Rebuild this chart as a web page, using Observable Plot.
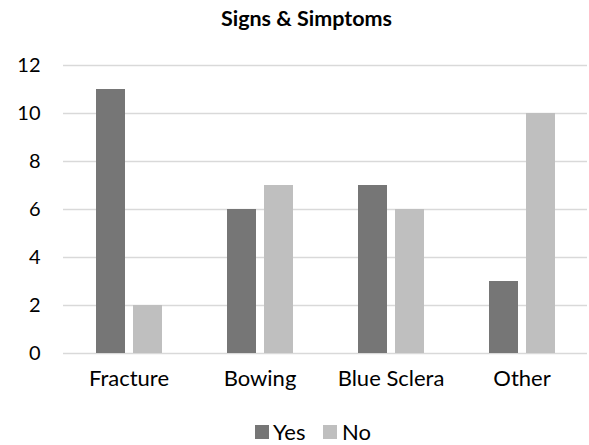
<!DOCTYPE html>
<html>
<head>
<meta charset="utf-8">
<script src="https://cdn.jsdelivr.net/npm/d3@7"></script>
<script src="https://cdn.jsdelivr.net/npm/@observablehq/plot@0.6"></script>
<style>
  html, body { margin: 0; padding: 0; background: #fff; }
  #wrap { width: 589px; height: 445px; position: relative; font-family: Lato, "Noto Sans", sans-serif; color: #000; overflow: hidden; }
  #title { position: absolute; left: 0; top: 4px; width: 613px; text-align: center; font-weight: 700; font-size: 21.5px; line-height: 28px; }
  #chart { position: absolute; left: 0; top: 40px; }
  #legend { position: absolute; left: 255px; top: 418px; height: 28px; font-size: 22px; line-height: 28px; }
  .sw { position: absolute; width: 14px; height: 14px; top: 7px; }
  .lbl { position: absolute; top: 0; white-space: nowrap; }
</style>
</head>
<body>
<div id="wrap">
  <div id="title">Signs &amp; Simptoms</div>
  <div id="chart"></div>
  <div id="legend"></div>
</div>
<script>
const categories = ["Fracture", "Bowing", "Blue Sclera", "Other"];
const series = ["Yes", "No"];
const yesValues = [11, 6, 7, 3];
const noValues = [2, 7, 6, 10];
const yTicks = [0, 2, 4, 6, 8, 10, 12];
const colors = ["#767676", "#bfbfbf"];

const data = [];
categories.forEach((c, i) => {
  data.push({category: c, series: "Yes", value: yesValues[i]});
  data.push({category: c, series: "No", value: noValues[i]});
});

const plot = Plot.plot({
  width: 589,
  height: 365,
  marginTop: 25,
  marginBottom: 52,
  marginLeft: 62,
  marginRight: 1,
  style: {fontFamily: "Lato, 'Noto Sans', sans-serif", fontSize: "20px", color: "#000", background: "#fff"},
  fx: {domain: categories, padding: 0, axis: "bottom", label: null, tickSize: 0, tickPadding: 17},
  x: {domain: series, paddingInner: 0.224, paddingOuter: 0.842, axis: null},
  y: {domain: [0, 12], ticks: yTicks, tickSize: 0, tickPadding: 23, label: null, line: false},
  color: {domain: series, range: colors},
  marks: [
    Plot.ruleY(yTicks, {stroke: "#d9d9d9", strokeWidth: 1.3}),
    Plot.barY(data, {fx: "category", x: "series", y: "value", fill: "series"})
  ]
});
plot.querySelectorAll("g[aria-label='fx-axis tick label'] text, g[aria-label='fx-axis'] text").forEach(t => t.setAttribute("font-size", "22px"));
document.getElementById("chart").appendChild(plot);

const legend = document.getElementById("legend");
const offsets = [[0, 18], [68, 87]];
series.forEach((s, i) => {
  const sw = document.createElement("span");
  sw.className = "sw";
  sw.style.left = offsets[i][0] + "px";
  sw.style.background = colors[i];
  const lbl = document.createElement("span");
  lbl.className = "lbl";
  lbl.style.left = offsets[i][1] + "px";
  lbl.textContent = s;
  legend.appendChild(sw);
  legend.appendChild(lbl);
});
</script>
</body>
</html>
